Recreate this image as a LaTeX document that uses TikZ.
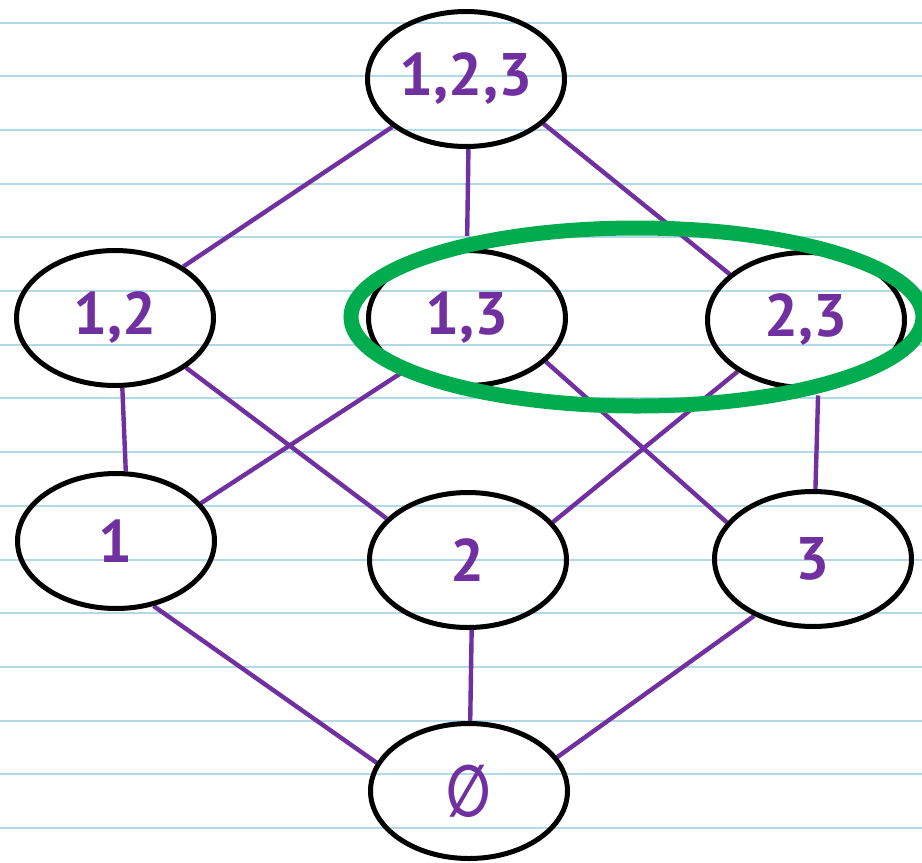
\documentclass[tikz,border=0pt]{standalone}
\usepackage{fontspec}
\setmainfont{PT Sans}
\newfontfamily\symfont{DejaVu Sans}
\usetikzlibrary{shapes.geometric,backgrounds}
\definecolor{rule}{RGB}{178,218,230}
\definecolor{edgepurple}{RGB}{112,48,160}
\definecolor{markgreen}{RGB}{0,172,78}
\begin{document}
\begin{tikzpicture}[x=1pt,y=-1pt,
  setnode/.style={ellipse, draw=black, line width=5pt,
    minimum width=197pt, minimum height=135pt, inner sep=0pt,
    text=edgepurple, font=\bfseries\fontsize{60}{60}\selectfont},
  link/.style={draw=edgepurple, line width=4.4pt},
  highlight/.style={ellipse, draw=markgreen, line width=15pt,
    minimum width=572pt, minimum height=178pt, inner sep=0pt}]
\useasboundingbox (0,0) rectangle (922,863);
\clip (0,0) rectangle (922,863);

% ruled paper
\begin{scope}[on background layer]
  \fill[white] (0,0) rectangle (922,863);
  \foreach \k in {0,...,15}
    \draw[rule, line width=2pt] (0,{22.5+53.7*\k}) -- (922,{22.5+53.7*\k});
\end{scope}

% subsets of {1,2,3}
\node[setnode] (s123) at (466,79)  {1,2,3};
\node[setnode] (s12)  at (115,318) {1,2};
\node[setnode] (s13)  at (467,318) {1,3};
\node[setnode] (s23)  at (806,320) {2,3};
\node[setnode] (s1)   at (116,541) {1};
\node[setnode] (s2)   at (468,560) {2};
\node[setnode] (s3)   at (813,559) {3};
\node[setnode] (s0)   at (469,791) {\scalebox{0.72}[1]{\symfont\fontsize{72}{72}\selectfont ∅}};

% inclusion edges
\begin{scope}[on background layer]
  \draw[link] (s123.213) -- (s12.37);
  \draw[link, shorten >=12pt] (s123.272) -- (s13.90);
  \draw[link] (s123.330) -- (s23.149);
  \draw[link] (s12.276) -- (s1.82);
  \draw[link] (s12.325) -- (s2.153);
  \draw[link] (s13.220) -- (s1.24);
  \draw[link] (s13.331) -- (s3.157);
  \draw[link] (s23.217) -- (s2.24);
  \draw[link, shorten <=6pt] (s23.280) -- (s3.88);
  \draw[link] (s1.300) -- (s0.163);
  \draw[link] (s2.273) -- (s0.89);
  \draw[link] (s3.224) -- (s0.21);
\end{scope}

% marked pair
\node[highlight] (pick) at (637,317) {};
\end{tikzpicture}
\end{document}
